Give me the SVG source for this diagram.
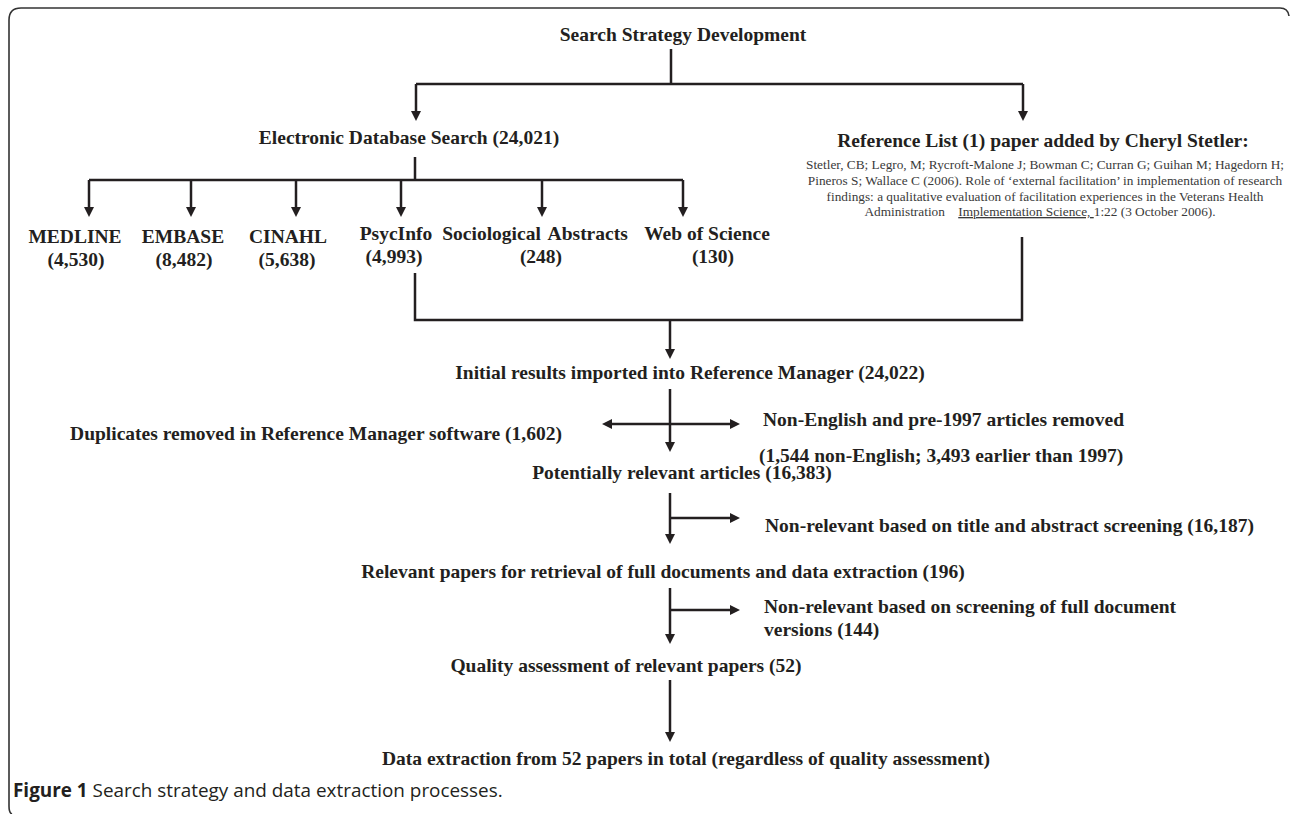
<svg xmlns="http://www.w3.org/2000/svg" width="1290" height="814" viewBox="0 0 1290 814">
<style>
.b{font-family:"Liberation Serif","Times New Roman",serif;font-weight:bold;font-size:19.5px;fill:#231f20}
.r{font-family:"Liberation Serif","Times New Roman",serif;font-size:13.3px;fill:#3a3a3a}
.m{text-anchor:middle}
.ln{fill:none;stroke:#231f20;stroke-width:2.5}
.cap{font-family:"Open Sans","Liberation Sans",sans-serif;font-size:18.9px;fill:#231f20}
</style>
<defs>
<marker id="ah" viewBox="0 0 10 10" refX="0" refY="5" markerWidth="11" markerHeight="10" markerUnits="userSpaceOnUse" orient="auto">
<path d="M0,0 L10,5 L0,10 z" fill="#231f20"/>
</marker>
</defs>
<rect width="1290" height="814" fill="#fff"/>
<path d="M12 814 Q9 813 9 806 L9 20 Q9 8 21 8 L1280 8 Q1288 8 1289 16" fill="none" stroke="#333" stroke-width="1.6"/>

<g id="connectors">
<path class="ln" d="M671 49 V84 M416 84 H1023"/>
<path class="ln" d="M416 84 V111" marker-end="url(#ah)"/>
<path class="ln" d="M1023 84 V111" marker-end="url(#ah)"/>
<path class="ln" d="M415 157 V180 M89 180 H683"/>
<path class="ln" d="M89 180 V207" marker-end="url(#ah)"/>
<path class="ln" d="M191 180 V207" marker-end="url(#ah)"/>
<path class="ln" d="M296 180 V207" marker-end="url(#ah)"/>
<path class="ln" d="M401 180 V207" marker-end="url(#ah)"/>
<path class="ln" d="M542 180 V207" marker-end="url(#ah)"/>
<path class="ln" d="M683 180 V207" marker-end="url(#ah)"/>
<path class="ln" d="M415 273 V320 H1022 V237"/>
<path class="ln" d="M670 320 V349" marker-end="url(#ah)"/>
<path class="ln" d="M670 389 V442" marker-end="url(#ah)"/>
<path class="ln" d="M670 424 H612" marker-end="url(#ah)"/>
<path class="ln" d="M670 424 H730" marker-end="url(#ah)"/>
<path class="ln" d="M670 493 V534" marker-end="url(#ah)"/>
<path class="ln" d="M670 518 H730" marker-end="url(#ah)"/>
<path class="ln" d="M670 588 V634" marker-end="url(#ah)"/>
<path class="ln" d="M670 610 H730" marker-end="url(#ah)"/>
<path class="ln" d="M670 680 V732" marker-end="url(#ah)"/>
</g>

<g id="n-search"><text class="b m" x="683" y="41">Search Strategy Development</text></g>
<g id="n-electronic"><text class="b m" x="409" y="144">Electronic Database Search (24,021)</text></g>
<g id="n-reflist">
<text class="b m" x="1043" y="147">Reference List (1) paper added by Cheryl Stetler:</text>
<text class="r m" x="1045" y="169">Stetler, CB; Legro, M; Rycroft-Malone J; Bowman C; Curran G; Guihan M; Hagedorn H;</text>
<text class="r m" x="1045" y="185">Pineros S; Wallace C (2006). Role of ‘external facilitation’ in implementation of research</text>
<text class="r m" x="1045" y="201">findings: a qualitative evaluation of facilitation experiences in the Veterans Health</text>
<text class="r m" x="1040" y="216">Administration <tspan dx="10" text-decoration="underline">Implementation Science, </tspan>1:22 (3 October 2006).</text>
</g>
<g id="n-medline"><text class="b m" x="75" y="243">MEDLINE</text><text class="b m" x="76" y="266">(4,530)</text></g>
<g id="n-embase"><text class="b m" x="183" y="243">EMBASE</text><text class="b m" x="184" y="266">(8,482)</text></g>
<g id="n-cinahl"><text class="b m" x="288" y="243">CINAHL</text><text class="b m" x="287" y="266">(5,638)</text></g>
<g id="n-psycinfo"><text class="b m" x="396" y="240">PsycInfo</text><text class="b m" x="394" y="263">(4,993)</text></g>
<g id="n-socabs"><text class="b m" x="535" y="240" word-spacing="3">Sociological Abstracts</text><text class="b m" x="541" y="263">(248)</text></g>
<g id="n-wos"><text class="b m" x="707" y="240">Web of Science</text><text class="b m" x="713" y="263">(130)</text></g>
<g id="n-initial"><text class="b m" x="690" y="379">Initial results imported into Reference Manager (24,022)</text></g>
<g id="n-duplicates"><text class="b m" x="316" y="440">Duplicates removed in Reference Manager software (1,602)</text></g>
<g id="n-nonenglish">
<text class="b" x="763" y="426">Non-English and pre-1997 articles removed</text>
<text class="b" x="759" y="462">(1,544 non-English; 3,493 earlier than 1997)</text>
</g>
<g id="n-potential"><text class="b m" x="682" y="479">Potentially relevant articles (16,383)</text></g>
<g id="n-nonrel1"><text class="b" x="765" y="532">Non-relevant based on title and abstract screening (16,187)</text></g>
<g id="n-relevant"><text class="b m" x="663" y="578">Relevant papers for retrieval of full documents and data extraction (196)</text></g>
<g id="n-nonrel2">
<text class="b" x="764" y="613">Non-relevant based on screening of full document</text>
<text class="b" x="764" y="636">versions (144)</text>
</g>
<g id="n-quality"><text class="b m" x="626" y="672">Quality assessment of relevant papers (52)</text></g>
<g id="n-extraction"><text class="b m" x="686" y="765">Data extraction from 52 papers in total (regardless of quality assessment)</text></g>
<g id="caption"><text class="cap" x="13" y="797"><tspan font-weight="bold">Figure 1</tspan> Search strategy and data extraction processes.</text></g>
</svg>
